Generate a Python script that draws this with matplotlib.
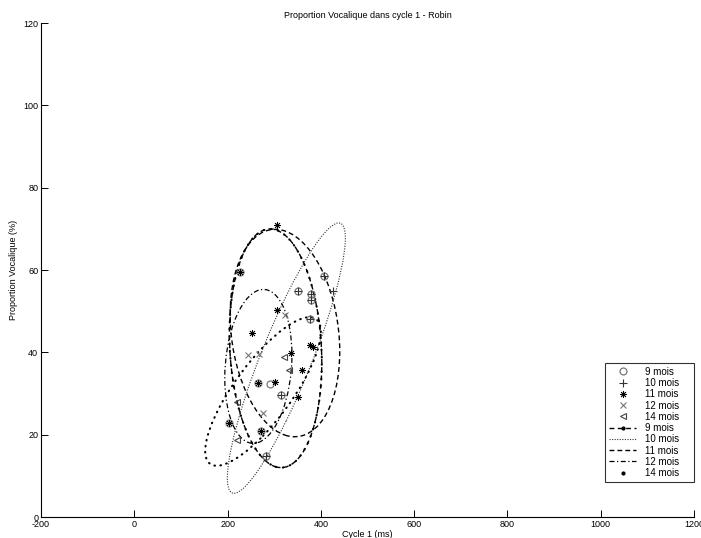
import matplotlib
matplotlib.use("Agg")
import matplotlib.pyplot as plt
import numpy as np
from matplotlib.patches import Circle
from matplotlib.transforms import Affine2D
from matplotlib.lines import Line2D

plt.rcParams['font.family'] = ['Liberation Sans', 'DejaVu Sans']
plt.rcParams['axes.unicode_minus'] = False

# ---- points per age ----
x9 = [227, 406, 352, 379, 379, 377, 266, 291, 314, 271, 204, 283]
y9 = [59.6, 58.5, 54.9, 54.2, 52.7, 48.0, 32.5, 32.3, 29.6, 21.0, 22.9, 14.8]

x10 = [352, 379, 379, 377, 314, 283, 406, 426]
y10 = [54.9, 54.2, 52.7, 48.0, 29.6, 14.8, 58.5, 54.9]

x11 = [305, 305, 252, 336, 377, 383, 359, 302, 352, 227, 266, 271, 204]
y11 = [70.9, 50.4, 44.8, 39.9, 41.8, 41.2, 35.7, 32.9, 29.1, 59.6, 32.5, 21.0, 22.9]

x12 = [243, 267, 276, 323]
y12 = [39.3, 39.5, 25.2, 49.1]

x14 = [320, 331, 221, 221]
y14 = [38.9, 35.7, 28.0, 18.7]

# ---- ellipses: 9, 10, 11, 12, 14 mois ----
ell_cx = [303, 326, 323, 266, 276]
ell_cy = [41.0, 38.6, 44.7, 36.6, 30.5]
ell_rx = [99, 126.5, 117.5, 72, 124]
ell_ry = [29.0, 32.85, 25.2, 18.7, 18.05]
ell_ph = [1.69, 0.48, 1.75, 1.42, 0.64]

labels = ["9 mois", "10 mois", "11 mois", "12 mois", "14 mois"]

fig = plt.figure(figsize=(7.01, 5.38), dpi=100)
ax = fig.add_axes([0.0585, 0.039, 0.9315, 0.918])


def ellipse(i, **kw):
    m = np.array([[ell_rx[i], 0, ell_cx[i]],
                  [ell_ry[i] * np.cos(ell_ph[i]), ell_ry[i] * np.sin(ell_ph[i]), ell_cy[i]],
                  [0, 0, 1]])
    c = Circle((0, 0), 1, fill=False, transform=Affine2D(m) + ax.transData, **kw)
    ax.add_patch(c)
    return c


# lines
ellipse(0, edgecolor="black", linewidth=1.0, linestyle=(0, (3.5, 2.5)))
dots = ellipse(0, edgecolor="black", linewidth=1.5, linestyle=(0, (0.3, 3.2)))
dots.set_capstyle("round")
ellipse(1, edgecolor="#333333", linewidth=0.8, linestyle=(0, (1, 1.3)))
ellipse(2, edgecolor="black", linewidth=1.0, linestyle=(0, (3.5, 2.2)))
ellipse(3, edgecolor="black", linewidth=0.9, linestyle=(0, (4, 2, 1, 2)))
d14 = ellipse(4, edgecolor="black", linewidth=1.5, linestyle=(0, (0.3, 2.6)))
d14.set_capstyle("round")

# markers
ax.plot(x9, y9, "o", mfc="none", mec="#777777", ms=5, mew=0.9)
ax.plot(x10, y10, "+", color="#333333", ms=6, mew=0.8)
ax.plot(x11, y11, marker=(8, 2, 0), ls="none", color="black", ms=5, mew=0.6)
ax.plot(x12, y12, "x", color="#777777", ms=4, mew=0.8)
ax.plot(x14, y14, "<", mfc="none", mec="#444444", ms=5, mew=0.8)

ax.set_xlim(-200, 1200)
ax.set_ylim(0, 120)
ax.set_xticks(np.arange(-200, 1201, 200))
ax.set_yticks(np.arange(0, 121, 20))
ax.tick_params(direction="in", length=5, labelsize=6.5, width=0.7, pad=2)
ax.spines["top"].set_visible(False)
ax.spines["right"].set_visible(False)
for s in ["left", "bottom"]:
    ax.spines[s].set_linewidth(0.8)

ax.set_title("Proportion Vocalique dans cycle 1 - Robin", fontsize=6.5, pad=4)
ax.set_xlabel("Cycle 1 (ms)", fontsize=6.5, labelpad=1)
ax.set_ylabel("Proportion Vocalique (%)", fontsize=6.5, labelpad=4)

handles = [
    Line2D([], [], ls="none", marker="o", mfc="none", mec="#777777", ms=5, mew=0.9),
    Line2D([], [], ls="none", marker="+", color="#333333", ms=6, mew=0.8),
    Line2D([], [], ls="none", marker=(8, 2, 0), color="black", ms=5, mew=0.6),
    Line2D([], [], ls="none", marker="x", color="#777777", ms=4, mew=0.8),
    Line2D([], [], ls="none", marker="<", mfc="none", mec="#444444", ms=5, mew=0.8),
    Line2D([], [], ls=(0, (3.5, 2.5)), color="black", lw=1.0, marker=".", ms=4),
    Line2D([], [], ls=(0, (1, 1.3)), color="#333333", lw=0.8),
    Line2D([], [], ls=(0, (3.5, 2.2)), color="black", lw=1.0),
    Line2D([], [], ls=(0, (4, 2, 1, 2)), color="black", lw=0.9),
    Line2D([], [], ls="none", marker=".", color="black", ms=4),
]
leg_labels = [s + "    " for s in labels + labels]
leg = fig.legend(handles, leg_labels, loc="lower right",
                 bbox_to_anchor=(0.99, 0.104), fontsize=7, frameon=True,
                 fancybox=False, edgecolor="black", handlelength=2.8,
                 labelspacing=0.13, borderpad=0.4, handletextpad=0.9,
                 borderaxespad=0)
leg.get_frame().set_linewidth(0.8)

fig.savefig("out.png", dpi=100)
